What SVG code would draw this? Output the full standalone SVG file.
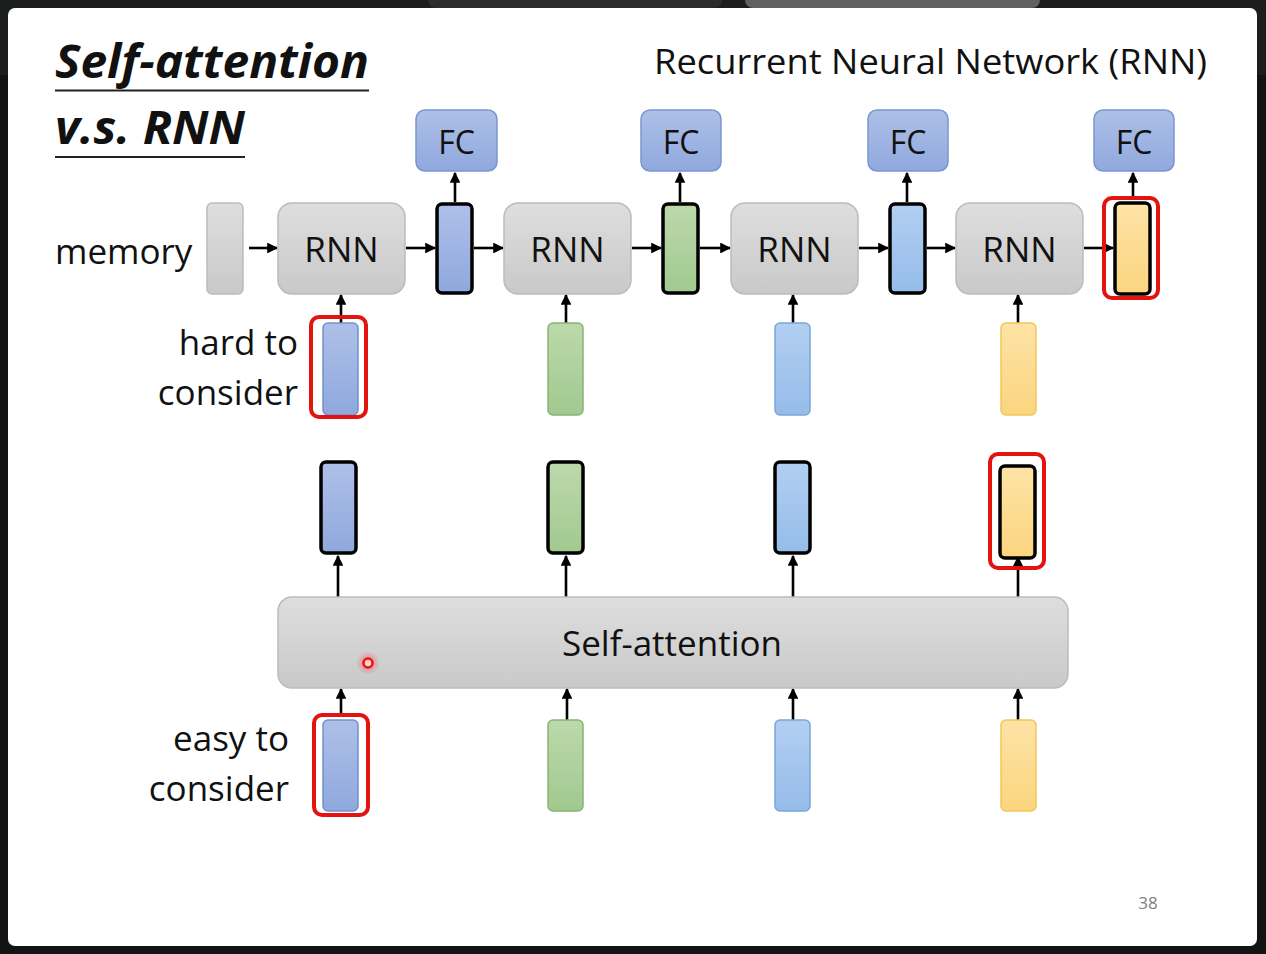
<svg xmlns="http://www.w3.org/2000/svg" width="1266" height="954" viewBox="0 0 1266 954">
<defs>
<linearGradient id="gGray" x1="0" y1="0" x2="0" y2="1"><stop offset="0" stop-color="#dedede"/><stop offset="1" stop-color="#c9c9c9"/></linearGradient>
<linearGradient id="gBlue" x1="0" y1="0" x2="0" y2="1"><stop offset="0" stop-color="#aec0e8"/><stop offset="1" stop-color="#8fa8dd"/></linearGradient>
<linearGradient id="gGreen" x1="0" y1="0" x2="0" y2="1"><stop offset="0" stop-color="#bcd9ac"/><stop offset="1" stop-color="#a1c98f"/></linearGradient>
<linearGradient id="gLblue" x1="0" y1="0" x2="0" y2="1"><stop offset="0" stop-color="#b2cff1"/><stop offset="1" stop-color="#95bce9"/></linearGradient>
<linearGradient id="gYellow" x1="0" y1="0" x2="0" y2="1"><stop offset="0" stop-color="#fde3a6"/><stop offset="1" stop-color="#fbd57f"/></linearGradient>
<radialGradient id="gGlow"><stop offset="0" stop-color="#ff3b3b" stop-opacity="0.6"/><stop offset="1" stop-color="#ff3b3b" stop-opacity="0"/></radialGradient>
<marker id="ah" viewBox="0 0 10 10" refX="9" refY="5" markerWidth="4.2" markerHeight="4.2" orient="auto" markerUnits="strokeWidth"><path d="M0,0 L10,5 L0,10 z" fill="#000"/></marker>
</defs>
<style>
.t{font-family:"Open Sans","Noto Sans","Liberation Sans",sans-serif;fill:#111;}
.gray{fill:url(#gGray);stroke:#bcbcbc;stroke-width:1.5;}
.fc{fill:url(#gBlue);stroke:#7a96d0;stroke-width:1.5;}
.hb{stroke:#000;stroke-width:3.5;}
.blue{fill:url(#gBlue);}
.green{fill:url(#gGreen);}
.lblue{fill:url(#gLblue);}
.yellow{fill:url(#gYellow);}
.in-blue{fill:url(#gBlue);stroke:#7390cb;stroke-width:1.5;}
.in-green{fill:url(#gGreen);stroke:#88b476;stroke-width:1.5;}
.in-lblue{fill:url(#gLblue);stroke:#7aa6dc;stroke-width:1.5;}
.in-yellow{fill:url(#gYellow);stroke:#f2c65a;stroke-width:1.5;}
.red{fill:none;stroke:#e3140f;stroke-width:4;}
.arr{stroke:#000;stroke-width:2.6;fill:none;marker-end:url(#ah);}
</style>
<rect x="0" y="0" width="1266" height="954" fill="#121314"/>
<rect x="0" y="0" width="1266" height="75" fill="#1c1d1f"/>
<rect x="428" y="-10" width="294" height="18" rx="8" fill="#2b2c2e"/>
<rect x="745" y="-10" width="295" height="18" rx="8" fill="#5f6062"/>
<rect x="8" y="8" width="1249" height="938" rx="7" fill="#ffffff"/>

<g id="title">
<text class="t" x="55" y="78" font-size="46" font-weight="700" font-style="italic" textLength="314" lengthAdjust="spacingAndGlyphs">Self-attention</text>
<line x1="55" y1="90.5" x2="369" y2="90.5" stroke="#222" stroke-width="2"/>
<text class="t" x="55" y="144" font-size="46" font-weight="700" font-style="italic" textLength="190" lengthAdjust="spacingAndGlyphs">v.s. RNN</text>
<line x1="55" y1="157" x2="245" y2="157" stroke="#222" stroke-width="2"/>
</g>
<text id="rnn-title" class="t" x="654" y="74" font-size="34" textLength="553" lengthAdjust="spacingAndGlyphs">Recurrent Neural Network (RNN)</text>

<g id="labels">
<text class="t" x="55" y="264" font-size="35">memory</text>
<text class="t" x="298" y="355" font-size="35" text-anchor="end">hard to</text>
<text class="t" x="298" y="405" font-size="35" text-anchor="end">consider</text>
<text class="t" x="289" y="751" font-size="35" text-anchor="end">easy to</text>
<text class="t" x="289" y="801" font-size="35" text-anchor="end">consider</text>
<text x="1148" y="909" font-size="17" text-anchor="middle" fill="#7f7f7f" font-family="Open Sans, sans-serif">38</text>
</g>

<g id="connectors">
<line class="arr" x1="249" y1="248" x2="277" y2="248"/>
<line class="arr" x1="406" y1="248" x2="435" y2="248"/>
<line class="arr" x1="474" y1="248" x2="503" y2="248"/>
<line class="arr" x1="632" y1="248" x2="661" y2="248"/>
<line class="arr" x1="700" y1="248" x2="730" y2="248"/>
<line class="arr" x1="859" y1="248" x2="888" y2="248"/>
<line class="arr" x1="927" y1="248" x2="955" y2="248"/>
<line class="arr" x1="1084" y1="248" x2="1113" y2="248"/>
<line class="arr" x1="455" y1="202" x2="455" y2="173"/>
<line class="arr" x1="680" y1="202" x2="680" y2="173"/>
<line class="arr" x1="907" y1="202" x2="907" y2="173"/>
<line class="arr" x1="1133" y1="197" x2="1133" y2="173"/>
<line class="arr" x1="341" y1="323" x2="341" y2="295"/>
<line class="arr" x1="566" y1="323" x2="566" y2="295"/>
<line class="arr" x1="793" y1="323" x2="793" y2="295"/>
<line class="arr" x1="1018" y1="323" x2="1018" y2="295"/>
<line class="arr" x1="338" y1="597" x2="338" y2="556"/>
<line class="arr" x1="566" y1="597" x2="566" y2="556"/>
<line class="arr" x1="793" y1="597" x2="793" y2="556"/>
<line class="arr" x1="1018" y1="597" x2="1018" y2="557"/>
<line class="arr" x1="341" y1="716" x2="341" y2="689"/>
<line class="arr" x1="567" y1="720" x2="567" y2="689"/>
<line class="arr" x1="793" y1="720" x2="793" y2="689"/>
<line class="arr" x1="1018" y1="720" x2="1018" y2="689"/>
</g>

<g id="memory"><rect class="gray" x="207" y="203" width="36" height="91" rx="5"/></g>
<g id="rnn1"><rect class="gray" x="278" y="203" width="127" height="91" rx="14"/><text class="t" x="341.5" y="262" font-size="35" text-anchor="middle">RNN</text></g>
<g id="rnn2"><rect class="gray" x="504" y="203" width="127" height="91" rx="14"/><text class="t" x="567.5" y="262" font-size="35" text-anchor="middle">RNN</text></g>
<g id="rnn3"><rect class="gray" x="731" y="203" width="127" height="91" rx="14"/><text class="t" x="794.5" y="262" font-size="35" text-anchor="middle">RNN</text></g>
<g id="rnn4"><rect class="gray" x="956" y="203" width="127" height="91" rx="14"/><text class="t" x="1019.5" y="262" font-size="35" text-anchor="middle">RNN</text></g>

<g id="h1"><rect class="hb blue" x="437" y="204" width="35" height="89" rx="5"/></g>
<g id="h2"><rect class="hb green" x="663" y="204" width="35" height="89" rx="5"/></g>
<g id="h3"><rect class="hb lblue" x="890" y="204" width="35" height="89" rx="5"/></g>
<g id="h4"><rect class="hb yellow" x="1115" y="203" width="35" height="91" rx="5"/><rect class="red" x="1104" y="198" width="54" height="100" rx="8"/></g>

<g id="fc1"><rect class="fc" x="416" y="110" width="81" height="61" rx="9"/><text class="t" x="456.5" y="154" font-size="32" text-anchor="middle">FC</text></g>
<g id="fc2"><rect class="fc" x="641" y="110" width="80" height="61" rx="9"/><text class="t" x="681" y="154" font-size="32" text-anchor="middle">FC</text></g>
<g id="fc3"><rect class="fc" x="868" y="110" width="80" height="61" rx="9"/><text class="t" x="908" y="154" font-size="32" text-anchor="middle">FC</text></g>
<g id="fc4"><rect class="fc" x="1094" y="110" width="80" height="61" rx="9"/><text class="t" x="1134" y="154" font-size="32" text-anchor="middle">FC</text></g>

<g id="x1-rnn"><rect class="in-blue" x="323" y="323" width="35" height="92" rx="5"/><rect class="red" x="311" y="317" width="55" height="100" rx="8"/></g>
<g id="x2-rnn"><rect class="in-green" x="548" y="323" width="35" height="92" rx="5"/></g>
<g id="x3-rnn"><rect class="in-lblue" x="775" y="323" width="35" height="92" rx="5"/></g>
<g id="x4-rnn"><rect class="in-yellow" x="1001" y="323" width="35" height="92" rx="5"/></g>

<g id="b1"><rect class="hb blue" x="321" y="462" width="35" height="91" rx="5"/></g>
<g id="b2"><rect class="hb green" x="548" y="462" width="35" height="91" rx="5"/></g>
<g id="b3"><rect class="hb lblue" x="775" y="462" width="35" height="91" rx="5"/></g>
<g id="b4"><rect class="hb yellow" x="1000" y="466" width="35" height="92" rx="5"/><rect class="red" x="990" y="454" width="54" height="114" rx="8"/></g>

<g id="self-attention"><rect class="gray" x="278" y="597" width="790" height="91" rx="14"/><text class="t" x="672" y="656" font-size="35" text-anchor="middle">Self-attention</text></g>

<g id="x1-sa"><rect class="in-blue" x="323" y="720" width="35" height="91" rx="5"/><rect class="red" x="314" y="715" width="54" height="100" rx="8"/></g>
<g id="x2-sa"><rect class="in-green" x="548" y="720" width="35" height="91" rx="5"/></g>
<g id="x3-sa"><rect class="in-lblue" x="775" y="720" width="35" height="91" rx="5"/></g>
<g id="x4-sa"><rect class="in-yellow" x="1001" y="720" width="35" height="91" rx="5"/></g>

<g id="pointer"><circle cx="368" cy="663" r="12" fill="url(#gGlow)"/><circle cx="368" cy="663" r="4.5" fill="#ffd0d0" stroke="#e8140f" stroke-width="2.5"/></g>
</svg>
